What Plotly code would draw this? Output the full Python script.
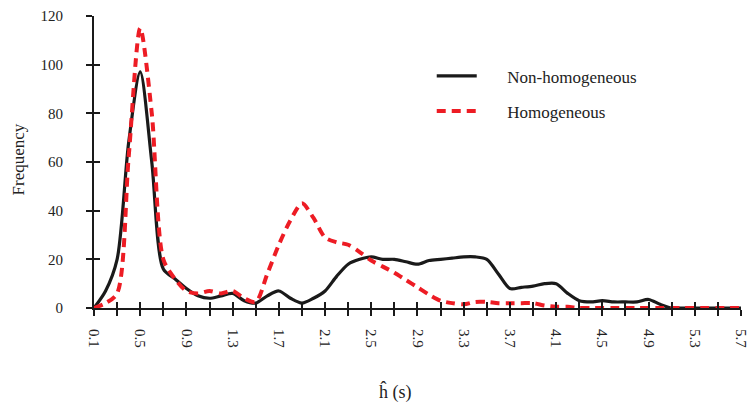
import plotly.graph_objects as go

h_values = [0.1, 0.2, 0.3, 0.4, 0.5, 0.6, 0.7, 0.8, 0.9, 1.0,
            1.1, 1.2, 1.3, 1.4, 1.5, 1.6, 1.7, 1.8, 1.9, 2.0,
            2.1, 2.2, 2.3, 2.4, 2.5, 2.6, 2.7, 2.8, 2.9, 3.0,
            3.1, 3.2, 3.3, 3.4, 3.5, 3.6, 3.7, 3.8, 3.9, 4.0,
            4.1, 4.2, 4.3, 4.4, 4.5, 4.6, 4.7, 4.8, 4.9, 5.0,
            5.1, 5.2, 5.3, 5.4, 5.5, 5.6, 5.7]

non_homogeneous = [0, 7, 20, 68, 97, 60, 16, 12, 8, 5,
                   4, 5, 6, 3, 2, 5, 7, 4, 2, 4,
                   7, 13, 18, 20, 21, 20, 20, 19, 18, 19.5,
                   20, 20.5, 21, 21, 20, 14, 8, 8.5, 9, 10,
                   10, 6, 3, 2.5, 3, 2.5, 2.5, 2.5, 3.5, 1.5,
                   0, 0, 0, 0, 0, 0, 0]

homogeneous = [0, 2, 6, 62, 115, 80, 20, 12, 7, 6,
               7, 6, 7, 4, 2.5, 14, 26, 36, 43, 37,
               29, 27, 26, 23, 19.5, 17, 14.5, 11.5, 8.5, 5.5,
               3, 2, 1.5, 2.5, 2.5, 2, 2, 2, 2, 1,
               0.5, 0.5, 0, 0, 0, 0, 0, 0, 0, 0,
               0, 0, 0, 0, 0, 0, 0]

tick_positions = [0.1, 0.3, 0.5, 0.7, 0.9, 1.1, 1.3, 1.5, 1.7, 1.9, 2.1, 2.3, 2.5,
                  2.7, 2.9, 3.1, 3.3, 3.5, 3.7, 3.9, 4.1, 4.3, 4.5, 4.7, 4.9, 5.1,
                  5.3, 5.5, 5.7]
tick_labels = ["0.1", "", "0.5", "", "0.9", "", "1.3", "", "1.7", "", "2.1", "", "2.5",
               "", "2.9", "", "3.3", "", "3.7", "", "4.1", "", "4.5", "", "4.9", "",
               "5.3", "", "5.7"]
y_ticks = [0, 20, 40, 60, 80, 100, 120]

FONT = "Liberation Serif"
X_RANGE = [0.1, 5.7001]
Y_RANGE = [0, 120]
PAD = "\u00a0" * 6

fig = go.Figure()
fig.add_trace(go.Scatter(
    x=h_values, y=non_homogeneous, mode="lines", name=PAD + "Non-homogeneous",
    line=dict(color="#1a1a1a", width=3.2, shape="spline", smoothing=0.8),
    legendgroup="a", cliponaxis=False,
))
fig.add_trace(go.Scatter(
    x=h_values, y=homogeneous, mode="lines", name=PAD + "Homogeneous",
    line=dict(color="#ED1C24", width=4, dash="9px,6px", shape="spline", smoothing=0.8),
    legendgroup="b", cliponaxis=False,
))
# invisible trace carrying the overlay axes that draw the inner half of the crossing ticks
fig.add_trace(go.Scatter(x=[h_values[0]], y=[y_ticks[0]], xaxis="x2", yaxis="y2",
                         mode="markers", marker=dict(opacity=0), showlegend=False,
                         hoverinfo="skip"))

tick_style = dict(showgrid=False, zeroline=False, tickcolor="#1a1a1a", tickwidth=2,
                  ticklen=6, automargin=False)

fig.update_layout(
    width=749, height=409,
    margin=dict(l=94, r=8, t=16, b=101),
    paper_bgcolor="white", plot_bgcolor="white",
    font=dict(family=FONT, size=15, color="#222"),
    showlegend=True,
    legend=dict(x=0.522, y=0.855, xanchor="left", yanchor="top",
                font=dict(family=FONT, size=17, color="#222"),
                tracegroupgap=10, bgcolor="rgba(0,0,0,0)", itemwidth=40),
    xaxis=dict(range=X_RANGE, tickmode="array", tickvals=tick_positions,
               ticktext=tick_labels, tickangle=90, ticks="outside", showline=True,
               linecolor="#1a1a1a", linewidth=2, ticklabelstandoff=10,
               ticklabeloverflow="allow", **tick_style),
    yaxis=dict(range=Y_RANGE, tickmode="array", tickvals=y_ticks, ticks="outside",
               showline=True, linecolor="#1a1a1a", linewidth=2, ticklabelstandoff=20,
               **tick_style),
    xaxis2=dict(overlaying="x", anchor="y", range=X_RANGE, tickmode="array",
                tickvals=tick_positions, showticklabels=False, ticks="inside",
                showline=False, side="bottom", **tick_style),
    yaxis2=dict(overlaying="y", anchor="x", range=Y_RANGE, tickmode="array",
                tickvals=y_ticks, showticklabels=False, ticks="inside",
                showline=False, side="left", **tick_style),
    annotations=[
        dict(text="ĥ (s)", xref="paper", yref="paper", x=0.466, y=-0.244,
             xanchor="center", yanchor="top", showarrow=False,
             font=dict(family=FONT, size=18, color="#222")),
        dict(text="Frequency", xref="paper", yref="paper", x=-0.117, y=0.51,
             xanchor="center", yanchor="middle", showarrow=False, textangle=-90,
             font=dict(family=FONT, size=17, color="#222")),
    ],
)

fig.write_html("out.html", config={"displayModeBar": False},
               post_script="document.body.style.margin='0';document.body.style.overflow='hidden';")
